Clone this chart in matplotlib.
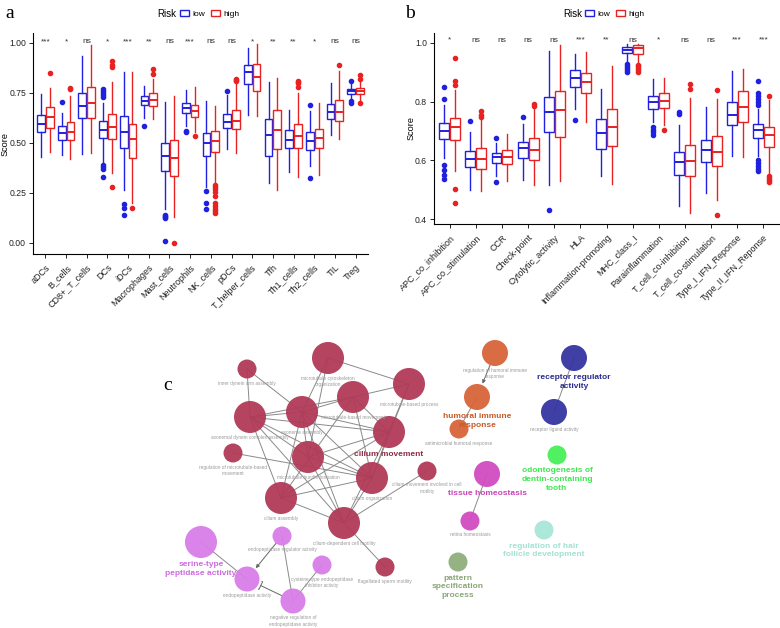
import matplotlib
matplotlib.use("Agg")
import matplotlib.pyplot as plt
import numpy as np
from matplotlib.patches import Patch, Circle

plt.rcParams['font.family'] = ['Liberation Sans', 'DejaVu Sans']

BLUE = '#2020E0'
RED = '#E82222'

# ---- panel a: immune cells ----
a_cats = ['aDCs', 'B_cells', 'CD8+_T_cells', 'DCs', 'iDCs', 'Macrophages', 'Mast_cells',
          'Neutrophils', 'NK_cells', 'pDCs', 'T_helper_cells', 'Tfh', 'Th1_cells',
          'Th2_cells', 'TIL', 'Treg']
# whislo, q1, med, q3, whishi
a_low = [[0.43, 0.555, 0.595, 0.64, 0.745], [0.44, 0.515, 0.548, 0.585, 0.65],
         [0.445, 0.625, 0.685, 0.75, 0.935], [0.40, 0.525, 0.565, 0.61, 0.70],
         [0.265, 0.475, 0.555, 0.635, 0.855], [0.625, 0.69, 0.71, 0.735, 0.785],
         [0.17, 0.36, 0.435, 0.50, 0.705], [0.585, 0.65, 0.675, 0.70, 0.765],
         [0.28, 0.435, 0.50, 0.55, 0.71], [0.47, 0.575, 0.605, 0.645, 0.74],
         [0.64, 0.795, 0.855, 0.89, 0.975], [0.30, 0.435, 0.54, 0.62, 0.805],
         [0.355, 0.475, 0.515, 0.565, 0.665], [0.385, 0.465, 0.51, 0.555, 0.66],
         [0.54, 0.62, 0.655, 0.695, 0.80], [0.72, 0.745, 0.76, 0.77, 0.805]]
a_low_out = [[], [0.705], [], [0.73, 0.74, 0.75, 0.76, 0.77, 0.39, 0.38, 0.37, 0.33],
             [0.195, 0.175, 0.14], [0.585], [0.14, 0.135, 0.13, 0.125, 0.01], [0.56, 0.555],
             [0.26, 0.20, 0.17], [0.76], [], [], [], [0.69, 0.325], [], [0.81, 0.71, 0.70]]
a_high = [[0.455, 0.575, 0.63, 0.68, 0.775], [0.42, 0.515, 0.555, 0.605, 0.735],
          [0.45, 0.625, 0.70, 0.78, 0.99], [0.35, 0.52, 0.58, 0.645, 0.805],
          [0.20, 0.425, 0.52, 0.595, 0.855], [0.62, 0.685, 0.715, 0.75, 0.82],
          [0.13, 0.335, 0.425, 0.515, 0.735], [0.555, 0.63, 0.66, 0.69, 0.78],
          [0.30, 0.455, 0.51, 0.56, 0.685], [0.45, 0.57, 0.61, 0.665, 0.80],
          [0.635, 0.76, 0.83, 0.895, 0.995], [0.265, 0.47, 0.565, 0.665, 0.825],
          [0.33, 0.475, 0.535, 0.595, 0.75], [0.34, 0.475, 0.525, 0.57, 0.70],
          [0.52, 0.61, 0.655, 0.715, 0.86], [0.715, 0.745, 0.76, 0.775, 0.815]]
a_high_out = [[0.85], [0.77, 0.775], [], [0.88, 0.89, 0.91, 0.28], [0.175], [0.845, 0.87],
              [0.0], [0.535], [0.29, 0.28, 0.27, 0.255, 0.235, 0.20, 0.185, 0.17, 0.16, 0.15],
              [0.81, 0.815, 0.82], [], [], [0.78, 0.80, 0.805, 0.81], [], [0.89], [0.84, 0.82, 0.70]]
a_sig = ['***', '*', 'ns', '*', '***', '**', 'ns', '***', 'ns', 'ns', '*', '**', '**', '*', 'ns', 'ns']

# ---- panel b: immune functions ----
b_cats = ['APC_co_inhibition', 'APC_co_stimulation', 'CCR', 'Check-point', 'Cytolytic_activity',
          'HLA', 'Inflammation-promoting', 'MHC_class_I', 'Parainflammation',
          'T_cell_co-inhibition', 'T_cell_co-stimulation', 'Type_I_IFN_Reponse',
          'Type_II_IFN_Reponse']
b_low = [[0.608, 0.672, 0.70, 0.727, 0.79], [0.50, 0.576, 0.605, 0.633, 0.695],
         [0.546, 0.591, 0.611, 0.625, 0.659], [0.532, 0.607, 0.641, 0.662, 0.725],
         [0.516, 0.695, 0.766, 0.815, 0.973], [0.774, 0.849, 0.882, 0.907, 0.964],
         [0.546, 0.638, 0.693, 0.74, 0.842], [0.932, 0.966, 0.977, 0.986, 0.998],
         [0.732, 0.775, 0.80, 0.819, 0.876], [0.446, 0.549, 0.593, 0.628, 0.719],
         [0.49, 0.593, 0.634, 0.67, 0.783], [0.614, 0.719, 0.753, 0.80, 0.903],
         [0.616, 0.676, 0.704, 0.723, 0.775]]
b_low_out = [[0.85, 0.81, 0.585, 0.568, 0.55, 0.535], [0.735], [0.677, 0.525], [0.747],
             [0.43], [0.736], [], [0.93, 0.922, 0.915, 0.908, 0.902],
             [0.713, 0.705, 0.695, 0.687], [0.766, 0.758], [], [],
             [0.87, 0.83, 0.82, 0.81, 0.80, 0.79, 0.60, 0.59, 0.58, 0.57, 0.563]]
b_high = [[0.563, 0.67, 0.713, 0.744, 0.84], [0.495, 0.571, 0.606, 0.642, 0.74],
          [0.531, 0.588, 0.611, 0.634, 0.69], [0.515, 0.602, 0.636, 0.676, 0.78],
          [0.528, 0.679, 0.771, 0.838, 0.992], [0.73, 0.828, 0.867, 0.898, 0.968],
          [0.52, 0.65, 0.713, 0.774, 0.922], [0.933, 0.964, 0.984, 0.992, 0.998],
          [0.72, 0.78, 0.803, 0.828, 0.879], [0.421, 0.545, 0.597, 0.653, 0.814],
          [0.465, 0.58, 0.628, 0.684, 0.81], [0.61, 0.73, 0.783, 0.838, 0.911],
          [0.551, 0.647, 0.687, 0.713, 0.805]]
b_high_out = [[0.95, 0.87, 0.857, 0.503, 0.455], [0.767, 0.755, 0.747], [], [0.792, 0.786],
              [], [], [], [0.926, 0.92, 0.914, 0.908, 0.902], [0.704], [0.86, 0.842],
              [0.84, 0.414], [], [0.82, 0.547, 0.54, 0.533, 0.525]]
b_sig = ['*', 'ns', 'ns', 'ns', 'ns', '***', '**', 'ns', '*', 'ns', 'ns', '***', '***']

# ---- panel c: GO network ----
node_names = ['inner dynein arm assembly', 'microtubule cytoskeleton\norganization',
              'microtubule-based process', 'microtubule-based movement', 'axoneme assembly',
              'axonemal dynein complex assembly', 'cilium movement',
              'regulation of microtubule-based\nmovement', 'microtubule bundle formation',
              'cilium organization', 'cilium movement involved in cell\nmotility',
              'cilium assembly', 'cilium-dependent cell motility', 'flagellated sperm motility',
              'serine-type\npeptidase activity', 'endopeptidase regulator activity',
              'cysteine-type endopeptidase\ninhibitor activity', 'endopeptidase activity',
              'negative regulation of\nendopeptidase activity',
              'regulation of humoral immune\nresponse', 'humoral immune\nresponse',
              'antimicrobial humoral response', 'receptor regulator\nactivity',
              'receptor ligand activity', 'odontogenesis of\ndentin-containing\ntooth',
              'tissue homeostasis', 'retina homeostasis', 'regulation of hair\nfollicle development',
              'pattern\nspecification\nprocess']
node_x = [247, 328, 409, 353, 302, 250, 389, 233, 308, 372, 427, 281, 344, 385,
          201, 282, 322, 247, 293, 495, 477, 459, 574, 554, 557, 487, 470, 544, 458]
node_y = [369, 358, 384, 397, 412, 417, 432, 453, 457, 478, 471, 498, 523, 567,
          542, 536, 565, 579, 601, 353, 397, 429, 358, 412, 455, 474, 521, 530, 562]
node_r = [9.5, 16, 16, 16, 16, 16, 16, 9.5, 16, 16, 9.5, 16, 16, 9.5,
          16, 9.5, 9.5, 12.5, 12.5, 13, 13, 9.5, 13, 13, 9.5, 13, 9.5, 9.5, 9.5]
node_group = [0] * 14 + [1] * 5 + [2] * 3 + [3] * 2 + [4] + [5] * 2 + [6] + [7]
# which node of each cluster carries the bold cluster label
lead_nodes = [6, 14, 20, 22, 24, 25, 27, 28]
group_colors = ['#B03A57', '#D87CE8', '#D8643A', '#3434A0', '#48F058', '#D04CC0',
                '#A8E6D8', '#8FAE7C']
label_colors = ['#8E2A45', '#CF6AE0', '#C85A28', '#2A2A90', '#3EE850', '#C844B8',
                '#A0E2D4', '#88A874']
edges = [(0, 5), (0, 4), (1, 4), (1, 2), (1, 8), (3, 2), (3, 4), (3, 5), (3, 11), (3, 9),
         (5, 4), (5, 6), (5, 9), (5, 8), (5, 11), (5, 12), (4, 6), (4, 9), (4, 8), (4, 12),
         (4, 11), (6, 2), (6, 8), (6, 11), (6, 9), (6, 12), (7, 9), (8, 9), (8, 12), (9, 11),
         (9, 12), (10, 12), (11, 12), (12, 13), (2, 9), (3, 6),
         (14, 17), (15, 18), (16, 18), (20, 21), (22, 23), (25, 26)]
arrow_edges = [(15, 17), (19, 20)]
inhibit_edges = [(18, 17)]


def box_stats(vals, outs):
    return [dict(whislo=v[0], q1=v[1], med=v[2], q3=v[3], whishi=v[4], fliers=o)
            for v, o in zip(vals, outs)]


def draw_box_panel(ax, cats, low, low_out, high, high_out, sig, ylim, yticks, sig_y, ylab_x):
    pos = np.arange(1, len(cats) + 1)
    for vals, outs, off, col in [(low, low_out, -0.21, BLUE), (high, high_out, 0.21, RED)]:
        ax.bxp(box_stats(vals, outs), positions=pos + off, widths=0.38, showcaps=False,
               patch_artist=True, manage_ticks=False,
               boxprops=dict(facecolor='white', edgecolor=col, linewidth=1.0),
               medianprops=dict(color=col, linewidth=1.4),
               whiskerprops=dict(color=col, linewidth=1.0),
               flierprops=dict(marker='o', markerfacecolor=col, markeredgecolor=col,
                               markersize=3))
    for p, s in zip(pos, sig):
        ax.text(p, sig_y, s, ha='center', va='center', fontsize=6, color='#333333')
    ax.set_xlim(0.4, len(cats) + 0.6)
    ax.set_ylim(*ylim)
    ax.set_yticks(yticks)
    ax.set_xticks(pos)
    ax.set_xticklabels(cats, rotation=45, ha='right', rotation_mode='anchor',
                       fontsize=6.5, color='#222222')
    ax.tick_params(axis='y', labelsize=6.2, labelcolor='#222222', length=3, width=0.6, pad=2)
    ax.tick_params(axis='x', length=3, width=0.6)
    ax.set_ylabel('Score', fontsize=6.6)
    ax.yaxis.set_label_coords(ylab_x, 0.5)
    for sp in ['top', 'right']:
        ax.spines[sp].set_visible(False)
    for sp in ['left', 'bottom']:
        ax.spines[sp].set_linewidth(0.8)


fig = plt.figure(figsize=(7.8, 6.28), dpi=100)

ax_a = fig.add_axes([33 / 780, 1 - 254 / 628, 335 / 780, 221 / 628])
draw_box_panel(ax_a, a_cats, a_low, a_low_out, a_high, a_high_out, a_sig,
               (-0.055, 1.05), [0, 0.25, 0.5, 0.75, 1.0], 1.006, (9.5 - 33) / 335)
ax_a.set_yticklabels(['0.00', '0.25', '0.50', '0.75', '1.00'])

ax_b = fig.add_axes([434 / 780, 1 - 224 / 628, 345 / 780, 191 / 628])
draw_box_panel(ax_b, b_cats, b_low, b_low_out, b_high, b_high_out, b_sig,
               (0.383, 1.034), [0.4, 0.6, 0.8, 1.0], 1.01, (416 - 434) / 345)
ax_b.set_yticklabels(['0.4', '0.6', '0.8', '1.0'])

# legends
handles = [Patch(facecolor='white', edgecolor=BLUE, linewidth=1),
           Patch(facecolor='white', edgecolor=RED, linewidth=1)]
for rx, lx in [(157, 180), (563, 585)]:
    fig.text(rx / 780, 1 - 14 / 628, 'Risk', fontsize=7, va='center', ha='left')
    fig.legend(handles, ['low', 'high'], loc='center left', bbox_to_anchor=(lx / 780, 1 - 14 / 628),
               ncol=2, frameon=False, fontsize=6, handlelength=1.1, handleheight=0.8,
               columnspacing=0.7, handletextpad=0.4, borderpad=0, borderaxespad=0)

for x, y, s in [(5, 13, 'a'), (405, 13, 'b'), (163, 386, 'c')]:
    fig.text(x / 780, 1 - y / 628, s, fontsize=14, family='Liberation Serif', va='center')

# network panel in pixel coordinates
ax_c = fig.add_axes([0, 0, 1, 1 - 300 / 628])
ax_c.set_xlim(0, 780)
ax_c.set_ylim(628, 300)
ax_c.set_aspect('equal', adjustable='datalim')
ax_c.axis('off')

for i, j in edges:
    ax_c.plot([node_x[i], node_x[j]], [node_y[i], node_y[j]], color='#8a8a8a', lw=0.7, zorder=1)
for i, j in arrow_edges:
    ax_c.annotate('', xy=(node_x[j], node_y[j]), xytext=(node_x[i], node_y[i]),
                  arrowprops=dict(arrowstyle='-|>', color='#666666', lw=0.7, mutation_scale=5,
                                  shrinkA=node_r[i] * 0.72, shrinkB=node_r[j] * 0.72 + 1),
                  zorder=1)
for i, j in inhibit_edges:
    ax_c.annotate('', xy=(node_x[j], node_y[j]), xytext=(node_x[i], node_y[i]),
                  arrowprops=dict(arrowstyle='-[', color='#666666', lw=0.7, mutation_scale=3,
                                  shrinkA=node_r[i] * 0.72, shrinkB=node_r[j] * 0.72 + 2),
                  zorder=1)

for k in range(len(node_names)):
    g = node_group[k]
    ax_c.add_patch(Circle((node_x[k], node_y[k]), node_r[k], facecolor=group_colors[g],
                          edgecolor='none', alpha=0.95, zorder=2))
    if k in lead_nodes:
        ax_c.text(node_x[k], node_y[k] + node_r[k] + 3, node_names[k], ha='center', va='top',
                  fontsize=6, fontweight='bold', color=label_colors[g], linespacing=1.35,
                  zorder=3)
    else:
        ax_c.text(node_x[k], node_y[k] + node_r[k] + 2, node_names[k], ha='center', va='top',
                  fontsize=3.4, color='#9a9a9a', linespacing=1.3, zorder=3)

fig.savefig('out.png', dpi=100)
